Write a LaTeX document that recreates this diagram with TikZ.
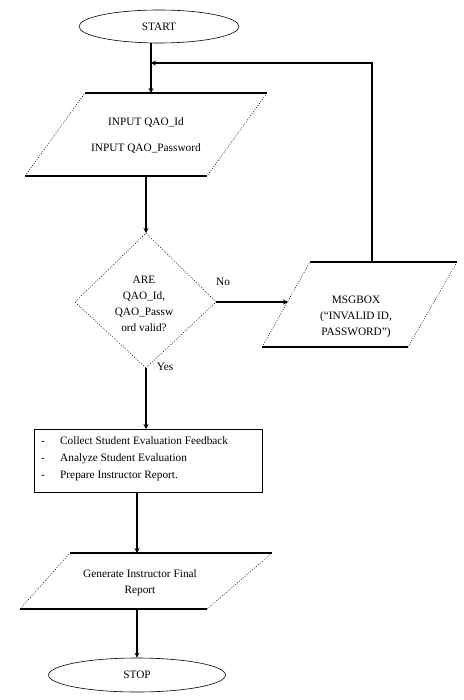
\documentclass[tikz,border=0pt]{standalone}
\usepackage{fontspec}
\setmainfont{Liberation Serif}
\usetikzlibrary{shapes.geometric,arrows.meta}
\begin{document}
\begin{tikzpicture}[x=1pt,y=-1pt,
  term/.style={ellipse,draw,line width=0.6pt,inner sep=0pt},
  edge/.style={line width=1.4pt},
  side/.style={line width=0.5pt,dash pattern=on 1pt off 1.5pt},
  arr/.style={line width=1.5pt,-{Stealth[length=5pt,width=5pt]}},
  txt/.style={font=\fontsize{11.3}{16}\selectfont,inner sep=0pt,align=center},
  lbl/.style={font=\fontsize{11.3}{13}\selectfont,inner sep=0pt}]
\useasboundingbox (0,0) rectangle (463,700);
\fill[white] (0,0) rectangle (463,700);

% START
\node[term,minimum width=160pt,minimum height=33pt] (start) at (159,26.5) {\fontsize{11.3}{13}\selectfont START};

% input parallelogram
\coordinate (i1) at (85,93);
\coordinate (i2) at (267,93);
\coordinate (i3) at (207,176);
\coordinate (i4) at (25,176);
\draw[edge] (i1) -- (i2);
\draw[edge] (i4) -- (i3);
\draw[side] (i2) -- (i3);
\draw[side] (i4) -- (i1);
\node[txt] (inA) at (146,122) {INPUT QAO\_Id};
\node[txt] (inB) at (146,148) {INPUT QAO\_Password};
\coordinate (intop) at (151,93);
\coordinate (inbot) at (146,176);

% decision diamond
\coordinate (dt) at (146,233);
\coordinate (dr) at (216,302);
\coordinate (db) at (146,368);
\coordinate (dl) at (75,302);
\draw[side] (dt) -- (dr) -- (db) -- (dl) -- cycle;
\node[txt] (dec) at (144,304) {ARE\\QAO\_Id,\\QAO\_Passw\\ord valid?};

% message box parallelogram
\coordinate (m1) at (310,262);
\coordinate (m2) at (457,262);
\coordinate (m3) at (408,347);
\coordinate (m4) at (262,347);
\draw[edge] (m1) -- (m2);
\draw[edge] (m4) -- (m3);
\draw[side] (m2) -- (m3);
\draw[side] (m4) -- (m1);
\node[txt] (msg) at (356,317) {MSGBOX\\(``INVALID ID,\\PASSWORD'')};
\coordinate (mleft) at (288,302);
\coordinate (mtop) at (372,262);
\coordinate (fbcorner) at (372,63);
\coordinate (fbend) at (151,63);

% process box
\node[draw,line width=0.6pt,minimum width=228pt,minimum height=63pt,inner sep=0pt] (proc) at (148,460.5) {};
\node[lbl,anchor=base west] (p1) at (60,444) {Collect Student Evaluation Feedback};
\node[lbl,anchor=base west] (p2) at (60,461) {Analyze Student Evaluation};
\node[lbl,anchor=base west] (p3) at (60,478) {Prepare Instructor Report.};
\node[lbl,anchor=base west] (b1) at (41,444) {-};
\node[lbl,anchor=base west] (b2) at (41,461) {-};
\node[lbl,anchor=base west] (b3) at (41,478) {-};
\coordinate (ptop) at (146,429);
\coordinate (pbot) at (137,492);

% output parallelogram
\coordinate (o1) at (70,553);
\coordinate (o2) at (272,553);
\coordinate (o3) at (207,609);
\coordinate (o4) at (20,609);
\draw[edge] (o1) -- (o2);
\draw[edge] (o4) -- (o3);
\draw[side] (o2) -- (o3);
\draw[side] (o4) -- (o1);
\node[txt] (out) at (140,583) {Generate Instructor Final\\Report};
\coordinate (otop) at (137,553);
\coordinate (obot) at (137,609);

% STOP
\node[term,minimum width=177pt,minimum height=34pt] (stop) at (137,675) {\fontsize{11.3}{13}\selectfont STOP};

% connectors
\draw[arr] (start.south -| intop) -- (intop);
\draw[arr] (inbot) -- (dt);
\draw[arr] (dr) -- (mleft);
\draw[arr] (mtop) -- (fbcorner) -- (fbend);
\draw[arr] (db) -- (ptop);
\draw[arr] (pbot) -- (otop);
\draw[arr] (obot) -- (stop.north);

% labels
\node[lbl] (no) at (223,282) {No};
\node[lbl] (yes) at (165,367) {Yes};
\end{tikzpicture}
\end{document}
